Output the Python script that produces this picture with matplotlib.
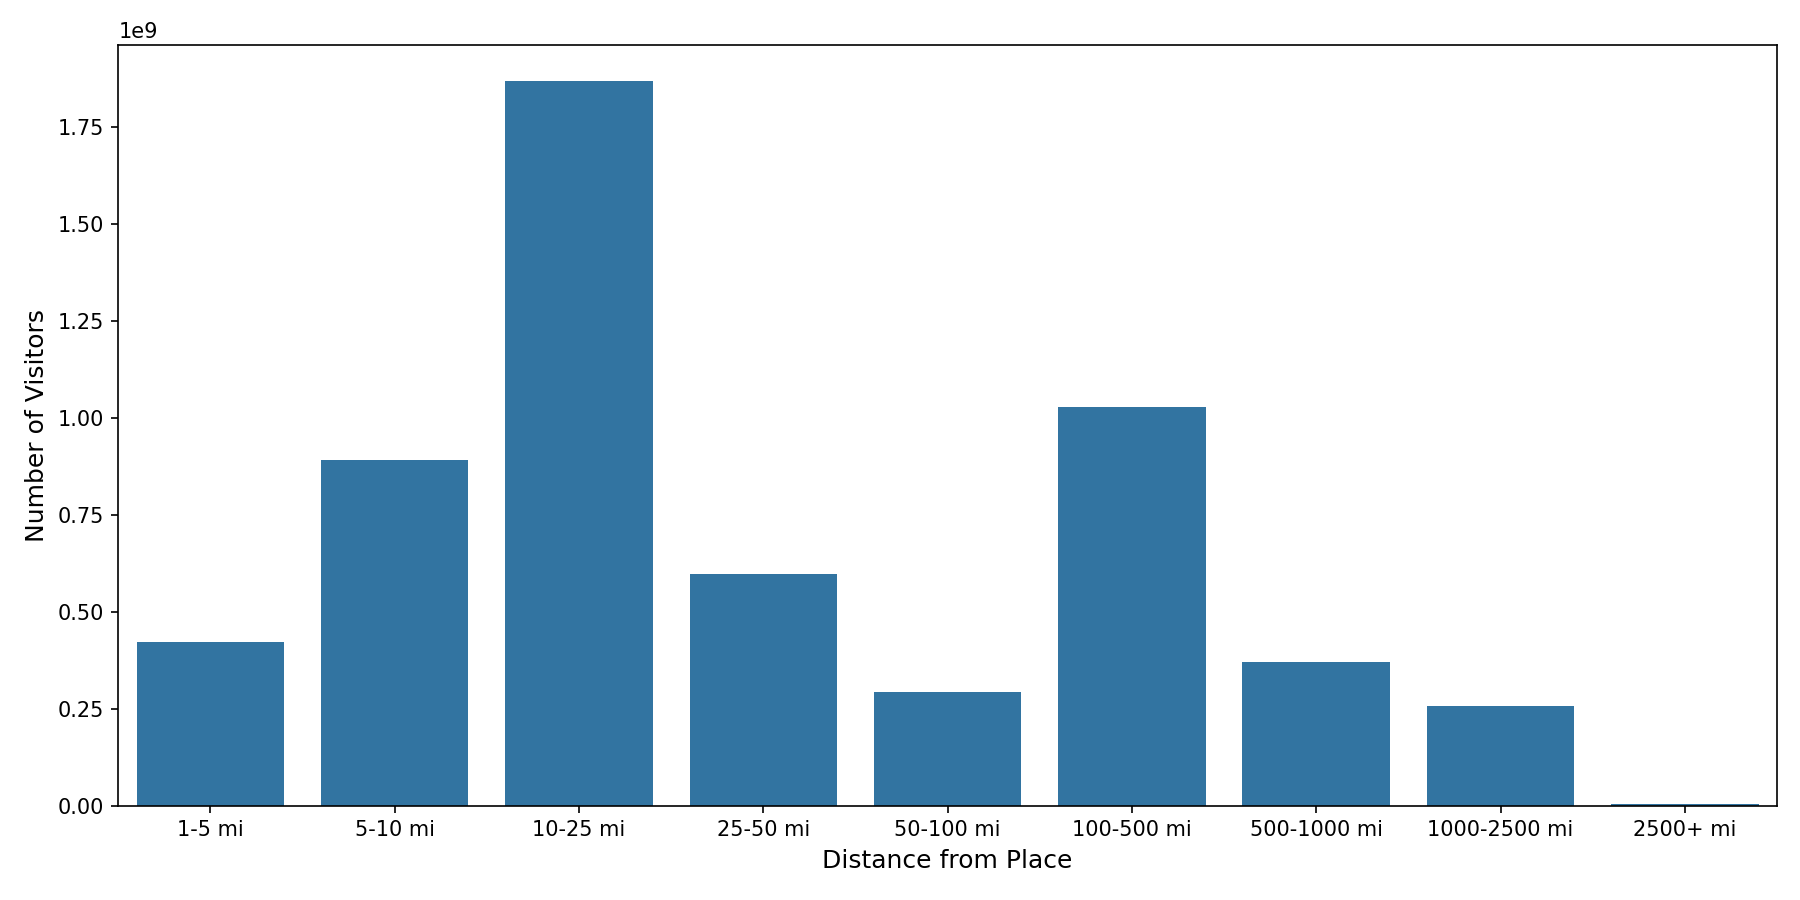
import matplotlib
matplotlib.use("Agg")
import matplotlib.pyplot as plt

categories = ["1-5 mi", "5-10 mi", "10-25 mi", "25-50 mi", "50-100 mi",
              "100-500 mi", "500-1000 mi", "1000-2500 mi", "2500+ mi"]
visitors = [0.424e9, 0.893e9, 1.870e9, 0.599e9, 0.295e9,
            1.028e9, 0.371e9, 0.257e9, 0.006e9]

fig, ax = plt.subplots(figsize=(12, 6), dpi=150)
x = range(len(categories))
ax.bar(x, visitors, width=0.8, color="#3274a1")
ax.set_xticks(list(x))
ax.set_xticklabels(categories)
ax.set_xlim(-0.5, len(categories) - 0.5)
ax.set_xlabel("Distance from Place", fontsize=12)
ax.set_ylabel("Number of Visitors", fontsize=12)
fig.subplots_adjust(left=0.0657, right=0.9872, top=0.9503, bottom=0.1046)
fig.savefig("out.png")
